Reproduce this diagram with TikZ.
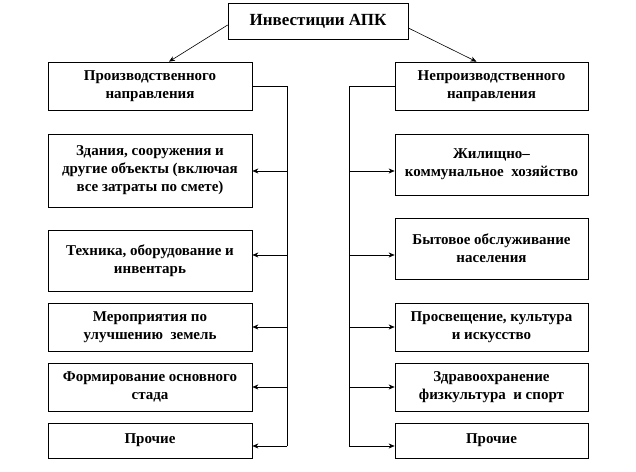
\documentclass[tikz,border=0pt]{standalone}
\usepackage{fontspec}
\setmainfont{Liberation Serif}[BoldFont={Liberation Serif Bold}]
\usetikzlibrary{arrows.meta}
\begin{document}
\begin{tikzpicture}[x=1pt,y=-1pt,>={Stealth[length=6pt,width=5pt]},
  blk/.style={draw,line width=0.7pt,align=center,inner sep=2pt,
    font=\bfseries\fontsize{15}{18}\selectfont},
  lbox/.style={blk,minimum width=204pt},
  rbox/.style={blk,minimum width=193pt},
  link/.style={line width=0.6pt}]
\useasboundingbox (0,0) rectangle (636,471);
% head
\node[blk,minimum width=180pt,minimum height=36pt,font=\bfseries\fontsize{17}{18}\selectfont] (inv) at (318,21) {Инвестиции АПК};
% left column
\node[lbox,minimum height=48pt] (L1) at (150,86) {Производственного\\направления};
\node[lbox,minimum height=73pt] (L2) at (150,170.5) {Здания, сооружения и\\другие объекты (включая\\все затраты по смете)};
\node[lbox,minimum height=61pt] (L3) at (150,260.5) {Техника, оборудование и\\инвентарь};
\node[lbox,minimum height=48pt] (L4) at (150,327) {Мероприятия по\\улучшению\ \ земель};
\node[lbox,minimum height=48pt] (L5) at (150,387) {Формирование основного\\стада};
\node[lbox,minimum height=35pt] (L6) at (150,440.5) {Прочие};
% right column
\node[rbox,minimum height=48pt] (R1) at (491.5,86) {Непроизводственного\\направления};
\node[rbox,minimum height=61pt] (R2) at (491.5,164.5) {Жилищно–\\коммунальное\ \ хозяйство};
\node[rbox,minimum height=61pt] (R3) at (491.5,248.5) {Бытовое обслуживание\\населения};
\node[rbox,minimum height=48pt] (R4) at (491.5,327) {Просвещение, культура\\и искусство};
\node[rbox,minimum height=48pt] (R5) at (491.5,387) {Здравоохранение\\физкультура\ \ и спорт};
\node[rbox,minimum height=35pt] (R6) at (491.5,440.5) {Прочие};
% head arrows
\draw[link,->] ([yshift=-4pt]inv.west) -- ([xshift=19pt]L1.north);
\draw[link,->] ([yshift=-7pt]inv.east) -- ([xshift=-15pt]R1.north);
% trunks
\foreach \i/\yl/\yr in {2/171/171,3/255/255,4/327/327,5/387/387,6/446/446}{
  \coordinate (tl\i) at (287,\yl);
  \coordinate (tr\i) at (349,\yr);
}
\draw[link] (L1.east) -| (tl6);
\draw[link] (R1.west) -| (tr6);
\foreach \i in {2,...,6}{
  \draw[link,->] (tl\i) -- (tl\i -| L\i.east);
  \draw[link,->] (tr\i) -- (tr\i -| R\i.west);
}
\end{tikzpicture}
\end{document}
